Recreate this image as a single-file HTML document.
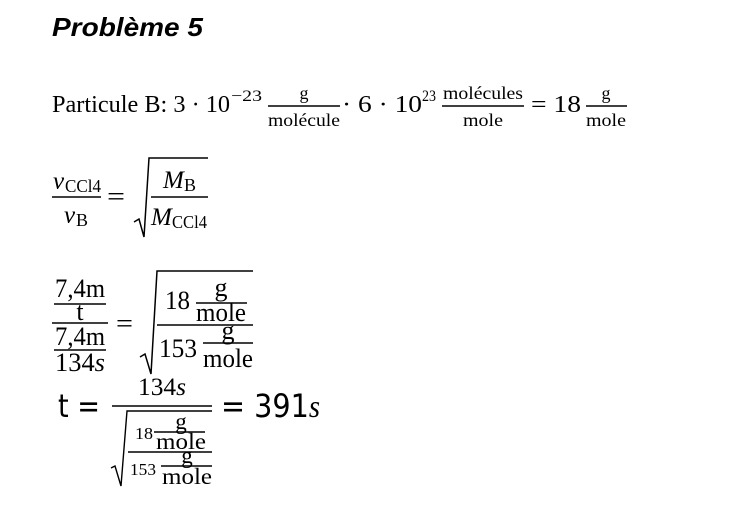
<!DOCTYPE html>
<html><head><meta charset="utf-8"><style>
html,body{margin:0;padding:0;background:#fff;}
svg{display:block;}
.s{font-family:"Liberation Serif",serif;fill:#000;}
.i{font-style:italic;}
line{stroke:#000;stroke-width:1.4;}
</style></head><body>
<svg width="739" height="522" viewBox="0 0 739 522" xmlns="http://www.w3.org/2000/svg">
<text x="52" y="36" font-family="Liberation Sans, sans-serif" font-weight="bold" font-style="italic" font-size="26" textLength="151" lengthAdjust="spacingAndGlyphs">Problème 5</text>

<!-- Line 1 -->
<text class="s" x="52" y="112" font-size="24" textLength="178" lengthAdjust="spacingAndGlyphs">Particule B: 3 · 10</text>
<text class="s" x="231" y="101" font-size="16" textLength="31" lengthAdjust="spacingAndGlyphs">−23</text>
<line x1="268" y1="106" x2="340" y2="106"/>
<text class="s" x="304" y="99" font-size="18" text-anchor="middle">g</text>
<text class="s" x="304" y="126" font-size="18" text-anchor="middle" textLength="72" lengthAdjust="spacingAndGlyphs">molécule</text>
<text class="s" x="342" y="112" font-size="24" textLength="80" lengthAdjust="spacingAndGlyphs">· 6 · 10</text>
<text class="s" x="422" y="101" font-size="16" textLength="14" lengthAdjust="spacingAndGlyphs">23</text>
<line x1="442" y1="106" x2="524" y2="106"/>
<text class="s" x="483" y="99" font-size="18" text-anchor="middle" textLength="80" lengthAdjust="spacingAndGlyphs">molécules</text>
<text class="s" x="483" y="126" font-size="18" text-anchor="middle" textLength="40" lengthAdjust="spacingAndGlyphs">mole</text>
<text class="s" x="531" y="112" font-size="24" textLength="50" lengthAdjust="spacingAndGlyphs">= 18</text>
<line x1="586" y1="106" x2="627" y2="106"/>
<text class="s" x="606" y="99" font-size="18" text-anchor="middle">g</text>
<text class="s" x="606" y="126" font-size="18" text-anchor="middle" textLength="40" lengthAdjust="spacingAndGlyphs">mole</text>

<!-- Line 2 -->
<text class="s i" x="53" y="189" font-size="25">ν</text>
<text class="s" x="65" y="192" font-size="18" textLength="36" lengthAdjust="spacingAndGlyphs">CCl4</text>
<line x1="52" y1="197" x2="101" y2="197"/>
<text class="s i" x="64" y="223" font-size="25">ν</text>
<text class="s" x="76" y="226" font-size="18">B</text>
<text class="s" x="107" y="205" font-size="26" textLength="18" lengthAdjust="spacingAndGlyphs">=</text>
<polyline points="134,222 139,219 144,237 149,158 208,158" fill="none" stroke="#000" stroke-width="1.5"/>
<text class="s i" x="163" y="188" font-size="25">M</text>
<text class="s" x="184" y="191" font-size="18">B</text>
<line x1="151" y1="197" x2="208" y2="197"/>
<text class="s i" x="151" y="225" font-size="25">M</text>
<text class="s" x="172" y="228" font-size="18" textLength="35" lengthAdjust="spacingAndGlyphs">CCl4</text>

<!-- Line 3 -->
<text class="s" x="80" y="297" font-size="26" text-anchor="middle" textLength="50" lengthAdjust="spacingAndGlyphs">7,4m</text>
<line x1="54" y1="304" x2="106" y2="304"/>
<text class="s" x="80" y="320" font-size="26" text-anchor="middle">t</text>
<line x1="52" y1="323" x2="108" y2="323"/>
<text class="s" x="80" y="345" font-size="26" text-anchor="middle" textLength="50" lengthAdjust="spacingAndGlyphs">7,4m</text>
<line x1="54" y1="350" x2="106" y2="350"/>
<text class="s" x="80" y="371" font-size="26" text-anchor="middle" textLength="50" lengthAdjust="spacingAndGlyphs">134<tspan font-style="italic">s</tspan></text>
<text class="s" x="116" y="332" font-size="26" textLength="17" lengthAdjust="spacingAndGlyphs">=</text>
<polyline points="140,357 145,354 151,374 157,271 253,271" fill="none" stroke="#000" stroke-width="1.5"/>
<text class="s" x="165" y="309" font-size="26" textLength="25" lengthAdjust="spacingAndGlyphs">18</text>
<line x1="196" y1="303" x2="247" y2="303"/>
<text class="s" x="221" y="296" font-size="26" text-anchor="middle">g</text>
<text class="s" x="221" y="321" font-size="26" text-anchor="middle" textLength="50" lengthAdjust="spacingAndGlyphs">mole</text>
<line x1="157" y1="325" x2="253" y2="325"/>
<text class="s" x="159" y="357" font-size="26" textLength="38" lengthAdjust="spacingAndGlyphs">153</text>
<line x1="203" y1="343" x2="253" y2="343"/>
<text class="s" x="228" y="339" font-size="26" text-anchor="middle">g</text>
<text class="s" x="228" y="367" font-size="26" text-anchor="middle" textLength="50" lengthAdjust="spacingAndGlyphs">mole</text>

<!-- Line 4 -->
<text x="58" y="417" font-family="DejaVu Sans, sans-serif" font-size="32" textLength="42" lengthAdjust="spacingAndGlyphs">t =</text>
<text class="s" x="162" y="395" font-size="25" text-anchor="middle" textLength="48" lengthAdjust="spacingAndGlyphs">134<tspan font-style="italic">s</tspan></text>
<line x1="112" y1="406" x2="212" y2="406"/>
<polyline points="111,468 115,466 121,486 127,411 212,411" fill="none" stroke="#000" stroke-width="1.4"/>
<text class="s" x="135" y="439" font-size="17" textLength="18" lengthAdjust="spacingAndGlyphs">18</text>
<line x1="154" y1="432" x2="205" y2="432"/>
<text class="s" x="181" y="429" font-size="23" text-anchor="middle">g</text>
<text class="s" x="181" y="449" font-size="23" text-anchor="middle" textLength="50" lengthAdjust="spacingAndGlyphs">mole</text>
<line x1="128" y1="452" x2="212" y2="452"/>
<text class="s" x="130" y="475" font-size="17" textLength="26" lengthAdjust="spacingAndGlyphs">153</text>
<line x1="161" y1="466" x2="212" y2="466"/>
<text class="s" x="187" y="463" font-size="23" text-anchor="middle">g</text>
<text class="s" x="187" y="484" font-size="23" text-anchor="middle" textLength="50" lengthAdjust="spacingAndGlyphs">mole</text>
<text x="221" y="417" font-family="DejaVu Sans, sans-serif" font-size="32" textLength="99" lengthAdjust="spacingAndGlyphs">= 391<tspan font-family="Liberation Serif, serif" font-style="italic">s</tspan></text>
</svg>
</body></html>
